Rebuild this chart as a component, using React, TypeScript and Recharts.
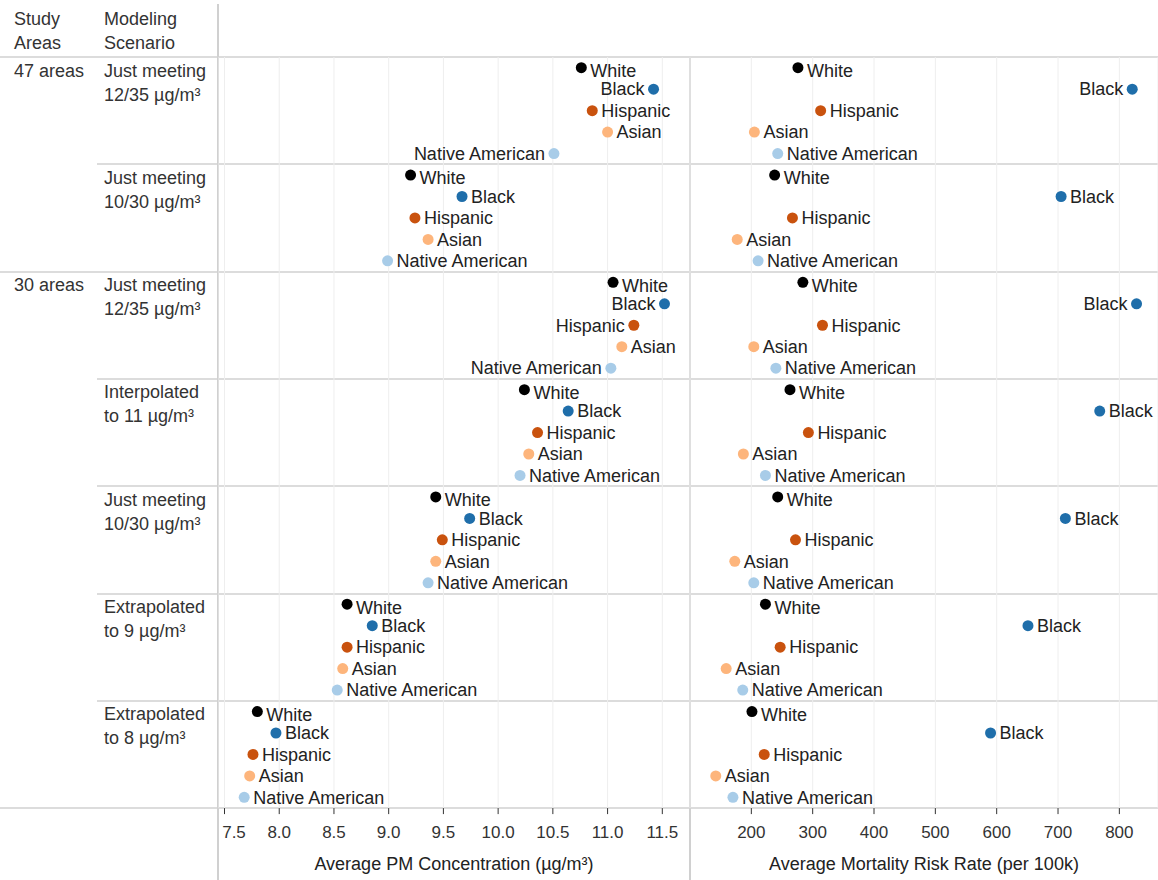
import React from 'react';
import { ScatterChart, Scatter, XAxis, YAxis, CartesianGrid } from 'recharts';

const races = ['White', 'Black', 'Hispanic', 'Asian', 'Native American'];
const raceColors = ['#000000', '#1f6eaa', '#c9520e', '#fdb57c', '#a8cce8'];

const studyAreas = ['47 areas', '', '30 areas', '', '', '', ''];
const scenarios = [
    ['Just meeting', '12/35 µg/m³'],
    ['Just meeting', '10/30 µg/m³'],
    ['Just meeting', '12/35 µg/m³'],
    ['Interpolated', 'to 11 µg/m³'],
    ['Just meeting', '10/30 µg/m³'],
    ['Extrapolated', 'to 9 µg/m³'],
    ['Extrapolated', 'to 8 µg/m³'],
];

// Average PM concentration (µg/m³), one value per scenario row
const pmWhite = [10.76, 9.2, 11.05, 10.24, 9.43, 8.62, 7.8];
const pmBlack = [11.42, 9.67, 11.52, 10.64, 9.74, 8.85, 7.97];
const pmHispanic = [10.86, 9.24, 11.24, 10.36, 9.49, 8.62, 7.76];
const pmAsian = [11.0, 9.36, 11.13, 10.28, 9.43, 8.58, 7.73];
const pmNative = [10.51, 8.99, 11.03, 10.2, 9.36, 8.53, 7.68];

// Average mortality risk rate (per 100k)
const riskWhite = [276, 238, 284, 263, 243, 223, 201];
const riskBlack = [821, 705, 828, 768, 712, 651, 590];
const riskHispanic = [313, 267, 316, 293, 272, 247, 221];
const riskAsian = [205, 177, 204, 187, 173, 159, 142];
const riskNative = [243, 211, 240, 223, 204, 186, 170];

const pmTicks = [7.5, 8.0, 8.5, 9.0, 9.5, 10.0, 10.5, 11.0, 11.5];
const riskTicks = [200, 300, 400, 500, 600, 700, 800];

// labels drawn to the left of their dot
const leftLabels = ['pm:0:Black', 'pm:0:Native American', 'pm:2:Black', 'pm:2:Hispanic', 'pm:2:Native American', 'risk:0:Black', 'risk:2:Black'];

const FONT = '"Liberation Sans", Arial, sans-serif';
const TOP = 57;
const ROW_H = 107.3;
const CHART_H = 880;

const buildSeries = (cols: number[][]) =>
    cols.map((vals, k) => vals.map((v, i) => ({ x: v, y: i + (k + 0.5) / 5, row: i })));

const pmSeries = buildSeries([pmWhite, pmBlack, pmHispanic, pmAsian, pmNative]);
const riskSeries = buildSeries([riskWhite, riskBlack, riskHispanic, riskAsian, riskNative]);

const makeDot = (panel: string, k: number) => (props: any) => {
    const { cx, cy, payload } = props;
    const left = leftLabels.includes(`${panel}:${payload.row}:${races[k]}`);
    const dy = k === 0 ? 3 : 0;
    return (
        <g>
            <circle cx={cx} cy={cy} r={5.5} fill={raceColors[k]} />
            <text
                x={left ? cx - 9 : cx + 9}
                y={cy + dy}
                dy="0.35em"
                textAnchor={left ? 'end' : 'start'}
                fontSize={18}
                fontFamily={FONT}
                fill="#222"
            >
                {races[k]}
            </text>
        </g>
    );
};

// keep the first tick label inside the panel
const makeTick = (fmt: (v: number) => string) => (props: any) => {
    const { x, y, payload } = props;
    return (
        <text x={Math.max(x, 16)} y={y} dy="0.71em" textAnchor="middle" fontSize={17} fill="#333" fontFamily={FONT}>
            {fmt(payload.value)}
        </text>
    );
};

const Panel = ({ panel, series, domain, ticks, title, width, fmt }: any) => (
    <ScatterChart width={width} height={CHART_H} margin={{ top: TOP, right: 0, bottom: 0, left: 0 }}>
        <CartesianGrid horizontal={false} stroke="#eeeeee" />
        <XAxis
            type="number"
            dataKey="x"
            domain={domain}
            ticks={ticks}
            interval={0}
            allowDataOverflow
            height={CHART_H - TOP - ROW_H * 7}
            axisLine={false}
            tickLine={{ stroke: '#333' }}
            tickSize={6}
            tickMargin={12}
            tick={makeTick(fmt)}
            label={{ value: title, position: 'insideBottom', offset: 10, fontSize: 18, fill: '#222', fontFamily: FONT }}
        />
        <YAxis type="number" dataKey="y" domain={[0, 7]} reversed hide />
        {series.map((data: any[], k: number) => (
            <Scatter key={races[k]} name={races[k]} data={data} fill={raceColors[k]} shape={makeDot(panel, k)} isAnimationActive={false} />
        ))}
    </ScatterChart>
);

const hLine = (y: number, x0: number, key: string) => (
    <div key={key} style={{ position: 'absolute', left: x0, top: y - 1, width: 1158 - x0, height: 2, background: '#dcdcdc' }} />
);

export default function App() {
    const rowTops = Array.from({ length: 8 }, (_, i) => TOP + i * ROW_H);
    const textStyle: React.CSSProperties = { position: 'absolute', fontSize: 18, lineHeight: '24px', color: '#333', fontFamily: FONT, whiteSpace: 'nowrap' };
    return (
        <div style={{ position: 'absolute', left: 0, top: 0, width: 1158, height: 880, background: '#fff', overflow: 'hidden' }}>
            {rowTops.map((y, i) => hLine(y, i === 0 || i === 2 || i === 7 ? 0 : 97, 'h' + i))}
            <div style={{ position: 'absolute', left: 217, top: 4, width: 2, height: 876, background: '#d0d0d0' }} />
            <div style={{ position: 'absolute', left: 689, top: TOP, width: 2, height: 880 - TOP, background: '#d0d0d0' }} />

            <div style={{ ...textStyle, left: 14, top: 7 }}>Study<br />Areas</div>
            <div style={{ ...textStyle, left: 104, top: 7 }}>Modeling<br />Scenario</div>
            {scenarios.map((s, i) => (
                <React.Fragment key={'s' + i}>
                    {studyAreas[i] && <div style={{ ...textStyle, left: 14, top: rowTops[i] + 1.5 }}>{studyAreas[i]}</div>}
                    <div style={{ ...textStyle, left: 104, top: rowTops[i] + 1.5 }}>{s[0]}<br />{s[1]}</div>
                </React.Fragment>
            ))}

            <div style={{ position: 'absolute', left: 218, top: 0 }}>
                <Panel panel="pm" series={pmSeries} domain={[7.4406, 11.753]} ticks={pmTicks} width={472}
                    title="Average PM Concentration (µg/m³)" fmt={(v: number) => v.toFixed(1)} />
            </div>
            <div style={{ position: 'absolute', left: 690, top: 0 }}>
                <Panel panel="risk" series={riskSeries} domain={[100, 863]} ticks={riskTicks} width={468}
                    title="Average Mortality Risk Rate (per 100k)" fmt={(v: number) => String(v)} />
            </div>
        </div>
    );
}
